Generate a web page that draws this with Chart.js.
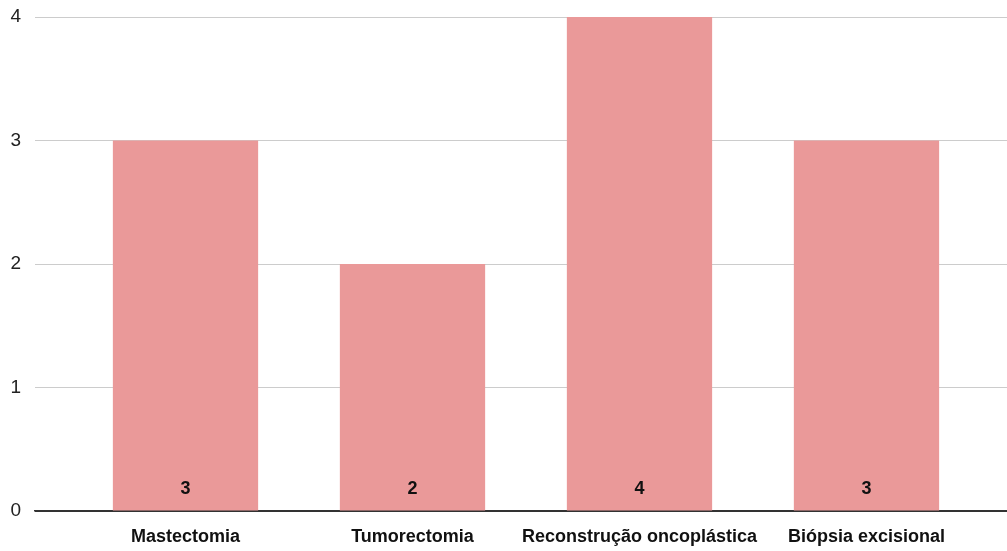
<!DOCTYPE html>
<html>
<head>
<meta charset="utf-8">
<script src="https://cdn.jsdelivr.net/npm/chart.js@4"></script>
<style>
  html, body { margin: 0; padding: 0; background: #fff; }
  #wrap { width: 1007px; height: 551px; position: relative; }
</style>
</head>
<body>
<div id="wrap"><canvas id="chart"></canvas></div>
<script>
const categories = ['Mastectomia', 'Tumorectomia', 'Reconstrução oncoplástica', 'Biópsia excisional'];
const values = [3, 2, 4, 3];
const yTicks = [0, 1, 2, 3, 4];

// Draw value labels near the base of each bar
const baseLabelPlugin = {
    id: 'baseLabels',
    afterDatasetsDraw: (chart) => {
        const ctx = chart.ctx;
        const meta = chart.getDatasetMeta(0);
        const yScale = chart.scales.y;
        ctx.save();
        ctx.font = 'bold 18px "Liberation Sans", Arial, sans-serif';
        ctx.fillStyle = '#111';
        ctx.textAlign = 'center';
        ctx.textBaseline = 'middle';
        meta.data.forEach((bar, i) => {
            ctx.fillText(String(values[i]), bar.x, yScale.getPixelForValue(0) - 22);
        });
        ctx.restore();
    }
};

const ctx = document.getElementById('chart').getContext('2d');
new Chart(ctx, {
    type: 'bar',
    data: {
        datasets: [{
            data: values.map((v, i) => ({ x: i, y: v })),
            backgroundColor: '#ea9999',
            borderWidth: 0,
            barPercentage: 0.64,
            categoryPercentage: 1
        }]
    },
    plugins: [baseLabelPlugin],
    options: {
        responsive: true,
        maintainAspectRatio: false,
        animation: false,
        layout: { padding: { top: 17, right: 0, left: 0, bottom: 0 } },
        plugins: {
            legend: { display: false },
            tooltip: { enabled: false }
        },
        scales: {
            x: {
                type: 'linear',
                offset: false,
                min: -0.663,
                max: 3.619,
                afterBuildTicks: (scale) => {
                    scale.ticks = categories.map((c, i) => ({ value: i }));
                },
                afterFit: (scale) => {
                    scale.height = 40;
                    scale.paddingLeft = 0;
                    scale.paddingRight = 0;
                },
                grid: { display: false, drawTicks: false },
                border: { display: true, color: '#333', width: 1.5 },
                ticks: {
                    padding: 15,
                    autoSkip: false,
                    maxRotation: 0,
                    color: '#111',
                    font: { family: '"Liberation Sans", Arial, sans-serif', size: 18, weight: 'bold' },
                    callback: (value) => categories[value] ?? ''
                }
            },
            y: {
                min: 0,
                max: 4,
                afterBuildTicks: (scale) => {
                    scale.ticks = yTicks.map(v => ({ value: v }));
                },
                afterFit: (scale) => {
                    scale.width = 35;
                    scale.paddingTop = 0;
                    scale.paddingBottom = 0;
                },
                grid: {
                    drawTicks: false,
                    color: (c) => c.tick && c.tick.value === 0 ? '#333' : '#cccccc',
                    lineWidth: 1
                },
                border: { display: false },
                ticks: {
                    padding: 14,
                    color: '#222',
                    font: { family: '"Liberation Sans", Arial, sans-serif', size: 19 }
                }
            }
        }
    }
});
</script>
</body>
</html>
